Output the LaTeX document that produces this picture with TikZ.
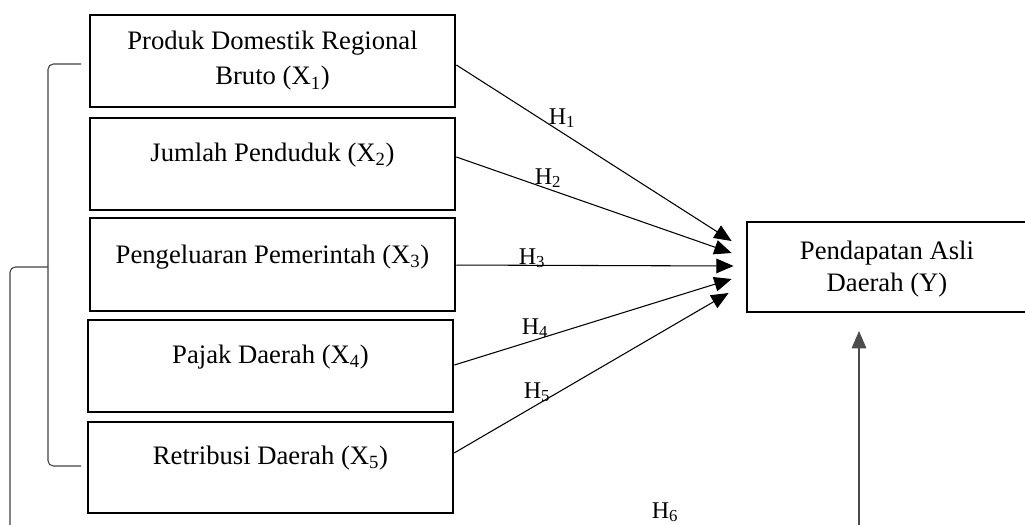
\documentclass[tikz,border=0pt]{standalone}
\usepackage{fontspec}
\setmainfont{Liberation Serif}
\usetikzlibrary{arrows.meta,calc}
\tikzset{
  varbox/.style={draw=black, line width=2.1pt, inner sep=0pt},
  boxtext/.style={font=\fontsize{20}{26}\selectfont, align=center, inner sep=0pt},
  hyplabel/.style={font=\fontsize{18}{20}\selectfont, inner sep=0pt},
  path/.style={draw=black, line width=0.8pt, -{Triangle[length=13pt,width=11pt]}},
  brace/.style={draw=black!75, line width=0.8pt, rounded corners=4pt},
}
\begin{document}
\begin{tikzpicture}[x=0.75pt,y=-0.75pt]
\useasboundingbox (0,0) rectangle (1025,525);
\clip (0,0) rectangle (1025,525);

% independent variables
\node[varbox, minimum width=273.75pt, minimum height=69pt] (b1) at (272.5,61) {};
\node[varbox, minimum width=273.75pt, minimum height=69pt] (b2) at (272.5,164) {};
\node[varbox, minimum width=273.75pt, minimum height=69.75pt] (b3) at (272.5,264.5) {};
\node[varbox, minimum width=273.75pt, minimum height=69pt] (b4) at (270.5,366) {};
\node[varbox, minimum width=273.75pt, minimum height=68.25pt] (b5) at (270.5,467.5) {};
% dependent variable
\node[varbox, minimum width=210pt, minimum height=67.5pt] (Y) at (887,267) {};

\node[boxtext, font=\fontsize{20}{26.25}\selectfont] (t1) at (272.5,61) {Produk Domestik Regional\\Bruto (X\textsubscript{1})};
\node[boxtext] (t2) at (272.5,155) {Jumlah Penduduk (X\textsubscript{2})};
\node[boxtext] (t3) at (272.5,257) {Pengeluaran Pemerintah (X\textsubscript{3})};
\node[boxtext] (t4) at (270.5,357) {Pajak Daerah (X\textsubscript{4})};
\node[boxtext] (t5) at (270.5,458) {Retribusi Daerah (X\textsubscript{5})};
\node[boxtext, font=\fontsize{20}{24}\selectfont] (tY) at (887,269) {Pendapatan Asli\\Daerah (Y)};

% arrow tips in front of Y
\coordinate (e1) at ($(Y.west)+(-14,-26)$);
\coordinate (e2) at ($(Y.west)+(-14,-14)$);
\coordinate (e3) at ($(Y.west)+(-12,-1)$);
\coordinate (e4) at ($(Y.west)+(-14,12)$);
\coordinate (e5) at ($(Y.west)+(-17,26)$);

\draw[path] ([yshift=-3pt]b1.east) -- (e1);
\draw[path] ([yshift=5.25pt]b2.east) -- (e2);
\draw[path] ([yshift=-0.4pt]b3.east) -- (e3);
\draw[path] ([yshift=0.75pt]b4.east) -- (e4);
\draw[path] ([yshift=11pt]b5.east) -- (e5);

\node[hyplabel] (h1) at (562,118) {H\textsubscript{1}};
\node[hyplabel] (h2) at (548,178) {H\textsubscript{2}};
\node[hyplabel] (h3) at (532,258) {H\textsubscript{3}};
\node[hyplabel] (h4) at (535,328) {H\textsubscript{4}};
\node[hyplabel] (h5) at (537,392) {H\textsubscript{5}};
\node[hyplabel] (h6) at (665,512) {H\textsubscript{6}};

% bracket grouping X1..X5 and the joint path
\coordinate (brtop) at (81,64);
\coordinate (brbot) at (81,466);
\coordinate (brmid) at (48,267);
\coordinate (jointend) at (10,540);
\draw[brace] (brtop) -- (48,64) -- (48,466) -- (brbot);
\draw[brace] (brmid) -- (10,267) -- (jointend);

% simultaneous effect arriving at Y
\coordinate (upstart) at (859,540);
\coordinate (uptip) at (859,331);
\draw[draw=black!70, line width=0.8pt, -{Triangle[length=13pt,width=11pt]}] (upstart) -- (uptip);
\end{tikzpicture}
\end{document}
